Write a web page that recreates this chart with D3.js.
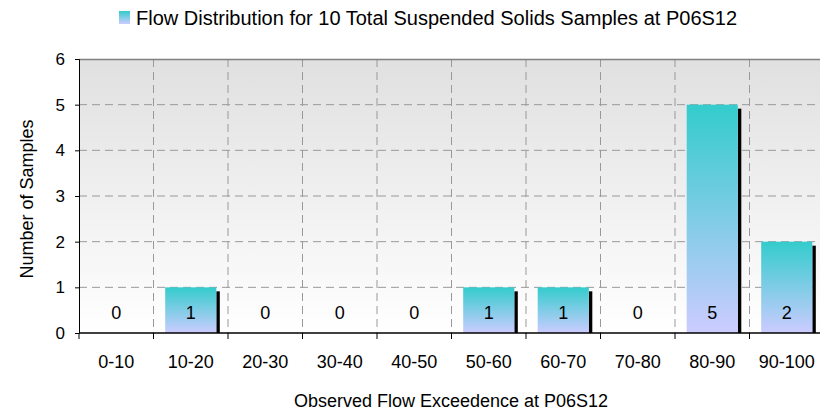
<!DOCTYPE html>
<html><head><meta charset="utf-8">
<script src="https://cdn.jsdelivr.net/npm/d3@7"></script>
<style>body{margin:0;background:#fff}text{font-family:Arial,"Liberation Sans",sans-serif;fill:#000}</style>
</head><body><svg id="c" width="820" height="415"></svg>
<script>
const categories = ["0-10","10-20","20-30","30-40","40-50","50-60","60-70","70-80","80-90","90-100"];
const counts = [0,1,0,0,0,1,1,0,5,2];
const yTicks = [0,1,2,3,4,5,6];
const title = "Flow Distribution for 10 Total Suspended Solids Samples at P06S12";
const xTitle = "Observed Flow Exceedence at P06S12";
const yTitle = "Number of Samples";

const svg = d3.select("#c");
const L = 79, R = 824, T = 59, B = 333;
const x = d3.scaleBand().domain(categories).range([L, R]).padding(0);
const y = d3.scaleLinear().domain([0, 6]).range([B, T]);
const defs = svg.append("defs");
const bg = defs.append("linearGradient").attr("id","bg").attr("x1",0).attr("y1",0).attr("x2",0).attr("y2",1);
bg.append("stop").attr("offset","0%").attr("stop-color","#e0e0e0");
bg.append("stop").attr("offset","100%").attr("stop-color","#ffffff");
const bar = defs.append("linearGradient").attr("id","bar").attr("x1",0).attr("y1",0).attr("x2",0).attr("y2",1);
bar.append("stop").attr("offset","0%").attr("stop-color","#33cccc");
bar.append("stop").attr("offset","100%").attr("stop-color","#ccccff");

svg.append("rect").attr("x",L).attr("y",T).attr("width",R-L).attr("height",B-T).attr("fill","url(#bg)");

// grid
svg.append("g").selectAll("line").data(yTicks.filter(d=>d>0&&d<6)).join("line")
  .attr("x1",L).attr("x2",R).attr("y1",d=>y(d)).attr("y2",d=>y(d))
  .attr("stroke","#999").attr("stroke-dasharray","8,5");
svg.append("g").selectAll("line").data(categories.slice(1)).join("line")
  .attr("x1",d=>x(d)).attr("x2",d=>x(d)).attr("y1",T).attr("y2",B)
  .attr("stroke","#999").attr("stroke-dasharray","8,5");
svg.append("line").attr("x1",L).attr("x2",R).attr("y1",T+0.5).attr("y2",T+0.5).attr("stroke","#808080").attr("stroke-width",1.5);

const bw = x.bandwidth()*0.686, off = x.bandwidth()*0.157;
const nz = categories.map((c,i)=>({c,v:counts[i]})).filter(d=>d.v>0);
// shadows
svg.append("g").selectAll("rect").data(nz).join("rect")
  .attr("x",d=>x(d.c)+off+bw).attr("y",d=>y(d.v)+4).attr("width",3.5).attr("height",d=>B-y(d.v)-4)
  .attr("fill","#000");
svg.append("g").selectAll("rect").data(nz).join("rect")
  .attr("x",d=>x(d.c)+off).attr("y",d=>y(d.v)).attr("width",bw).attr("height",d=>B-y(d.v))
  .attr("fill","url(#bar)");

// labels
svg.append("g").selectAll("text").data(categories).join("text")
  .attr("x",d=>x(d)+x.bandwidth()/2).attr("y",318.5)
  .attr("text-anchor","middle").style("font-size","18px").text((d,i)=>counts[i]);

// axes
const ya = svg.append("g").attr("transform",`translate(${L},0)`)
  .call(d3.axisLeft(y).tickValues(yTicks).tickSize(4).tickPadding(10).tickFormat(d3.format("d")));
ya.select(".domain").attr("stroke","#000");
ya.selectAll("text").style("font-size","17px").style("font-family","Arial, 'Liberation Sans', sans-serif");
const xa = svg.append("g").attr("transform",`translate(0,${B})`);
xa.append("line").attr("x1",L).attr("x2",R).attr("stroke","#000").attr("stroke-width",1.3);
xa.selectAll("line.t").data(categories.concat(["end"])).join("line").attr("class","t")
  .attr("x1",(d,i)=>L+i*x.bandwidth()).attr("x2",(d,i)=>L+i*x.bandwidth()).attr("y1",0).attr("y2",6).attr("stroke","#000");
xa.selectAll("text").data(categories).join("text")
  .attr("x",d=>x(d)+x.bandwidth()/2).attr("y",35).attr("text-anchor","middle").style("font-size","18px").text(d=>d);

svg.append("text").attr("x",451).attr("y",407).attr("text-anchor","middle").style("font-size","18px").text(xTitle);
svg.append("text").attr("transform","translate(33,199) rotate(-90)").attr("text-anchor","middle").style("font-size","18px").text(yTitle);

// legend/title
svg.append("rect").attr("x",119).attr("y",11).attr("width",11).attr("height",13).attr("fill","url(#bar)");
svg.append("text").attr("x",136).attr("y",25).style("font-size","20px").text(title);
</script></body></html>
